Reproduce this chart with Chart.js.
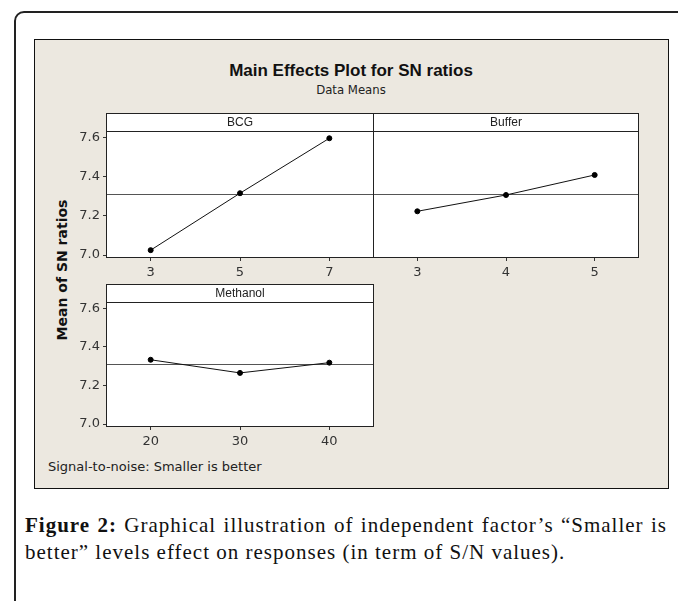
<!DOCTYPE html>
<html>
<head>
<meta charset="utf-8">
<script src="https://cdn.jsdelivr.net/npm/chart.js@4/dist/chart.umd.min.js"></script>
<style>
  html, body { margin: 0; padding: 0; background: #fff; }
  body { width: 678px; height: 601px; position: relative; overflow: hidden; }
  .frame { position: absolute; left: 14px; top: 11px; width: 700px; height: 700px;
           border: 2px solid #222; border-radius: 10px; box-sizing: border-box; }
  .panel { position: absolute; left: 34px; top: 39px; width: 635px; height: 450px;
           border: 1px solid #111; background: #ece8e0; box-sizing: border-box; }
  canvas { position: absolute; }
  .title { position: absolute; left: 34px; width: 634px; text-align: center; color: #111; }
  .main { top: 61px; font: bold 17px "Liberation Sans", sans-serif; }
  .sub { top: 82px; font: 13px "DejaVu Sans Condensed", "DejaVu Sans", sans-serif; color: #222; }
  .ylab { position: absolute; left: 62px; top: 270px; transform: translate(-50%, -50%) rotate(-90deg);
          font: bold 14px "DejaVu Sans", sans-serif; white-space: nowrap; color: #111; }
  .note { position: absolute; left: 48px; top: 459px; font: 13px "DejaVu Sans", sans-serif; color: #222; }
  .cap { position: absolute; left: 25px; width: 642px; font: 21px "Liberation Serif", serif; color: #111;
         white-space: nowrap; letter-spacing: 1px; }
  .cap1 { top: 513px; text-align: justify; text-align-last: justify; white-space: normal; }
  .cap2 { top: 540px; }
</style>
</head>
<body>
<div class="frame"></div>
<div class="panel"></div>
<div class="title main">Main Effects Plot for SN ratios</div>
<div class="title sub">Data Means</div>
<div class="ylab">Mean of SN ratios</div>
<div class="note">Signal-to-noise: Smaller is better</div>
<div class="cap cap1"><b>Figure 2:</b> Graphical illustration of independent factor’s “Smaller is</div>
<div class="cap cap2">better” levels effect on responses (in term of S/N values).</div>

<canvas id="bcg" width="324" height="170" style="left:50px; top:113px"></canvas>
<canvas id="buffer" width="266" height="170" style="left:373px; top:113px"></canvas>
<canvas id="methanol" width="324" height="168" style="left:50px; top:284px"></canvas>

<script>
  // data
  const bcgLevels = ['3', '5', '7'];
  const bcgMeans = [7.025, 7.315, 7.595];
  const bufferLevels = ['3', '4', '5'];
  const bufferMeans = [7.223, 7.306, 7.408];
  const methanolLevels = ['20', '30', '40'];
  const methanolMeans = [7.333, 7.265, 7.318];
  const yTicks = [7.0, 7.2, 7.4, 7.6];
  const yMin = 6.985;
  const yMax = 7.63;

  const allMeans = bcgMeans.concat(bufferMeans, methanolMeans);
  const grandMean = allMeans.reduce((a, b) => a + b, 0) / allMeans.length;

  const tickFont = { family: 'DejaVu Sans', size: 13 };

  // white plot box, strip on top, grand mean line
  const panelPlugin = {
    id: 'panel',
    beforeDraw(chart) {
      const { ctx, chartArea: a } = chart;
      ctx.save();
      ctx.fillStyle = '#fff';
      ctx.fillRect(a.left, 0, a.right - a.left, a.bottom);
      ctx.restore();
    },
    beforeDatasetsDraw(chart) {
      const { ctx, chartArea: a } = chart;
      const y = Math.round(chart.scales.y.getPixelForValue(grandMean)) + 0.5;
      ctx.save();
      ctx.strokeStyle = '#555';
      ctx.lineWidth = 1;
      ctx.beginPath();
      ctx.moveTo(a.left, y);
      ctx.lineTo(a.right, y);
      ctx.stroke();
      ctx.restore();
    },
    afterDraw(chart) {
      const { ctx, chartArea: a } = chart;
      const top = Math.round(a.top);
      ctx.save();
      ctx.strokeStyle = '#222';
      ctx.lineWidth = 1;
      ctx.strokeRect(a.left + 0.5, 0.5, a.right - a.left - 1, top);
      ctx.strokeRect(a.left + 0.5, top + 0.5, a.right - a.left - 1, Math.round(a.bottom) - top - 1);
      ctx.restore();
    }
  };

  function makePanel(id, name, levels, means, showY) {
    const ctx = document.getElementById(id).getContext('2d');
    return new Chart(ctx, {
      type: 'line',
      data: {
        labels: levels,
        datasets: [{
          data: means,
          borderColor: '#111',
          borderWidth: 1,
          pointRadius: 2.5,
          pointBackgroundColor: '#000',
          pointBorderColor: '#000',
          tension: 0
        }]
      },
      options: {
        responsive: false,
        animation: false,
        devicePixelRatio: 1,
        layout: { padding: 0, autoPadding: false },
        plugins: {
          legend: { display: false },
          tooltip: { enabled: false },
          title: {
            display: true,
            text: name,
            fullSize: false,
            color: '#222',
            font: { family: 'Liberation Sans', size: 12, weight: 'normal' },
            padding: { top: 2, bottom: 2 }
          }
        },
        scales: {
          x: {
            type: 'category',
            offset: true,
            border: { display: false },
            grid: { drawOnChartArea: false, drawTicks: true, tickLength: 3, color: '#333' },
            ticks: { color: '#333', font: tickFont, padding: 4 },
            afterFit(scale) { scale.height = 25; }
          },
          y: {
            display: showY,
            min: yMin,
            max: yMax,
            border: { display: false },
            grid: { drawOnChartArea: false, drawTicks: true, tickLength: 3, color: '#333' },
            ticks: { color: '#333', font: tickFont, padding: 3, callback: (v) => v.toFixed(1) },
            afterBuildTicks(scale) { scale.ticks = yTicks.map((v) => ({ value: v })); },
            afterFit(scale) { scale.width = showY ? 56 : 0; }
          }
        }
      },
      plugins: [panelPlugin]
    });
  }

  makePanel('bcg', 'BCG', bcgLevels, bcgMeans, true);
  makePanel('buffer', 'Buffer', bufferLevels, bufferMeans, false);
  makePanel('methanol', 'Methanol', methanolLevels, methanolMeans, true);
</script>
</body>
</html>
